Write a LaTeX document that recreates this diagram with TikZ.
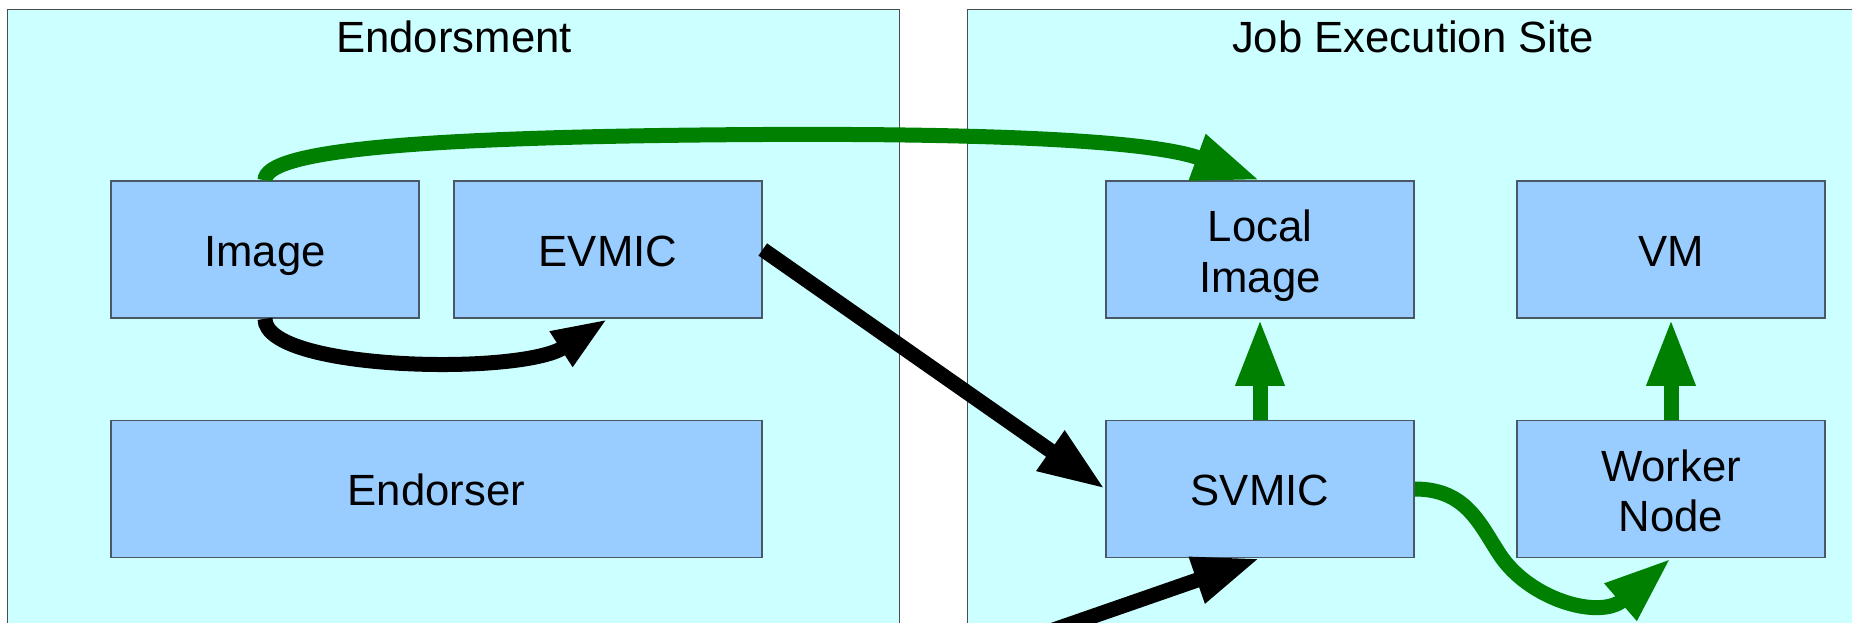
\documentclass[tikz,border=0pt]{standalone}
\usepackage{fontspec}
\setmainfont{Liberation Sans}
\usetikzlibrary{arrows.meta}
\definecolor{panelfill}{HTML}{CCFFFF}
\definecolor{boxfill}{HTML}{99CCFF}
\definecolor{boxline}{HTML}{4A5866}
\definecolor{flowgreen}{HTML}{008000}

\begin{document}
\begin{tikzpicture}[x=1pt,y=-1pt,
  panel/.style={draw=black!70, fill=panelfill, line width=1.2pt},
  paneltitle/.style={font=\fontsize{43.7}{50}\selectfont, anchor=base, inner sep=0pt},
  block/.style={draw=boxline, fill=boxfill, line width=1.5pt,
    minimum width=308pt, minimum height=137pt, inner sep=0pt,
    font=\fontsize{43.7}{50.5}\selectfont, text height=33.4pt, text depth=0pt},
  twoline/.style={block, align=center, text height=85pt, text depth=0pt},
  wideblock/.style={block, minimum width=651pt},
  flow/.style={line width=15pt, line cap=butt, -{Triangle[length=67pt,width=45pt]}},
  shortflow/.style={line width=15pt, line cap=butt, -{Triangle[length=56pt,width=38pt]}},
]
\useasboundingbox (0,0) rectangle (1852,623);
\fill[white] (0,0) rectangle (1852,623);

% the two sites
\draw[panel] (7.7,9.5) rectangle (899.6,645);
\draw[panel] (967.3,9.5) rectangle (1860,645);
\node[paneltitle] (ttlA) at (454,52.8) {Endorsment};
\node[paneltitle] (ttlB) at (1413,52.8) {Job Execution Site};

% components
\node[block] (img) at (265,249.5) {Image};
\node[block] (evmic) at (608,249.5) {EVMIC};
\node[wideblock] (endorser) at (436.5,489) {Endorser};
\node[twoline] (limg) at (1260,249.5) {Local\\Image};
\node[block] (vm) at (1671,249.5) {VM};
\node[block] (svmic) at (1260,489) {SVMIC};
\node[twoline] (worker) at (1671,489) {Worker\\Node};

% flows
\coordinate (src) at (990,652);
\draw[flow, flowgreen] (img.north) .. controls (265,150) and (420,138) .. (700,135)
  .. controls (980,132) and (1150,140) .. (limg.north);
\draw[shortflow] (img.south) .. controls +(0,52) and +(-88,57) .. (evmic.south);
\draw[flow] (evmic.east) -- (svmic.west);
\draw[flow] (src) -- (svmic.south);
\draw[flow, flowgreen] (svmic.north) -- (limg.south);
\draw[flow, flowgreen] (worker.north) -- (vm.south);
\draw[flow, flowgreen] (svmic.east) .. controls +(52,0) and (1480,525) .. (1500,555)
  .. controls (1530,600) and (1600,620) .. (worker.south);
\end{tikzpicture}
\end{document}
